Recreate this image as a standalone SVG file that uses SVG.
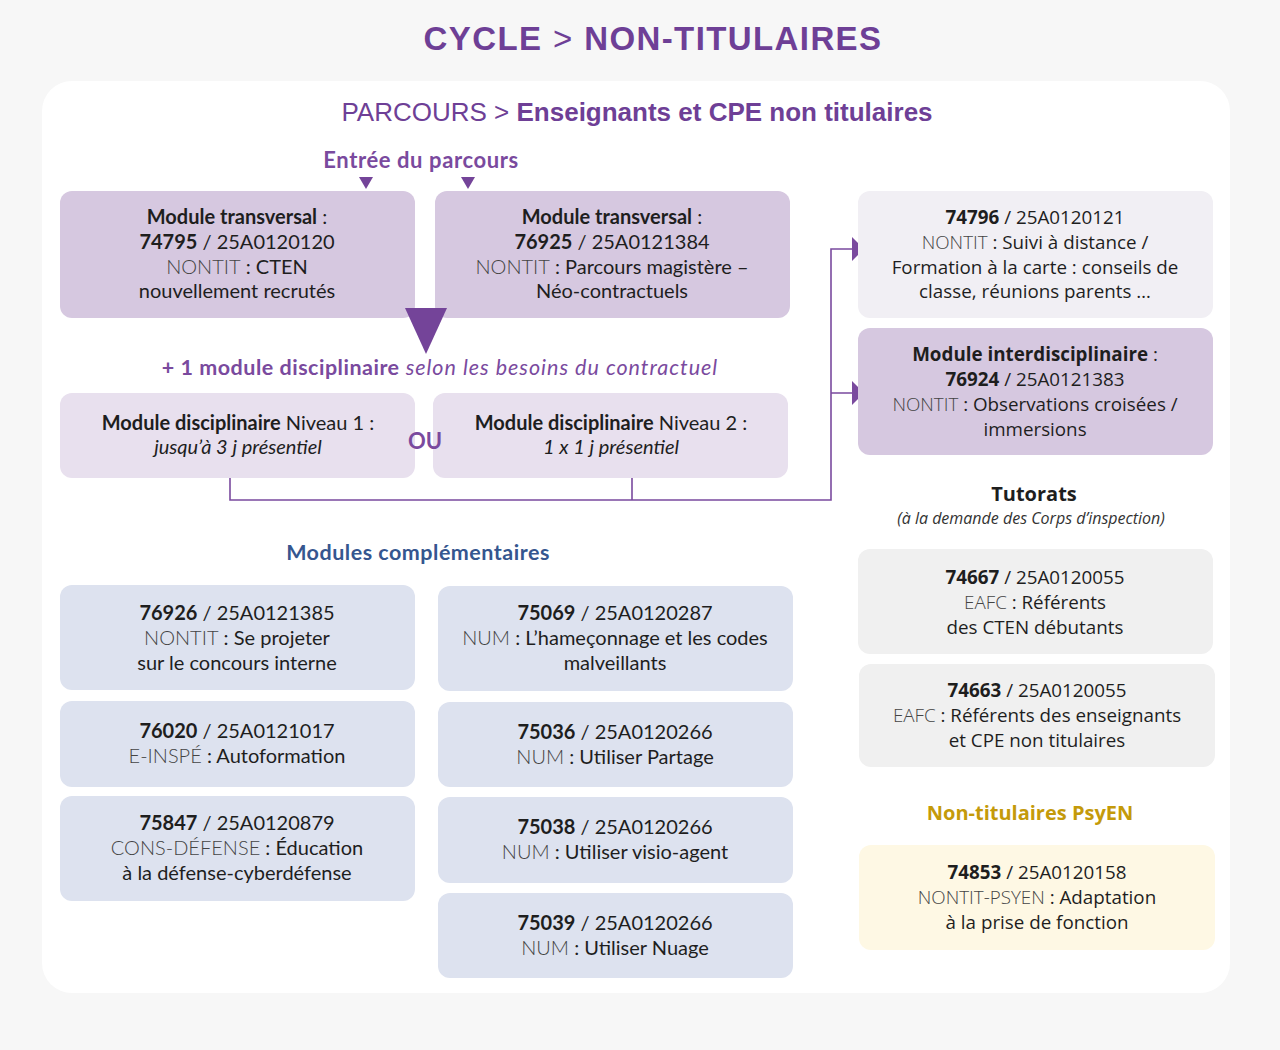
<svg xmlns="http://www.w3.org/2000/svg" width="1280" height="1050" viewBox="0 0 1280 1050">
<defs>
<style>
.t{font-family:"Lato","Liberation Sans",sans-serif;font-size:20px;fill:#1e1e1e;text-anchor:middle}
.w{font-family:"Open Sans","Liberation Sans",sans-serif;font-size:18.8px;fill:#1e1e1e;text-anchor:middle}
.b{font-weight:700}
.g{fill:#444;font-weight:300}
.i{font-style:italic}
.pv{fill:#d6c8e0}
.pl{fill:#e8e0ee}
.gr{fill:#f1eff4}
.gy{fill:#f0f0f0}
.bl{fill:#dde2ef}
.ye{fill:#fef8e4}
.conn{fill:none;stroke:#7a4a9e;stroke-width:1.6}
.ah{fill:#7a4a9e}
</style>
</defs>
<rect width="1280" height="1050" fill="#f7f7f7"/>
<rect x="42" y="81" width="1188" height="912" rx="30" fill="#ffffff"/>

<text x="653" y="50" text-anchor="middle" font-family="Liberation Sans, sans-serif" font-size="33" font-weight="700" fill="#6e3f96" letter-spacing="1.4">CYCLE <tspan font-weight="400">&gt;</tspan> NON-TITULAIRES</text>
<text x="637" y="121" text-anchor="middle" font-family="Liberation Sans, sans-serif" font-size="26" fill="#6e3f96">PARCOURS &gt; <tspan font-weight="700">Enseignants et CPE non titulaires</tspan></text>
<text x="421" y="168" text-anchor="middle" font-family="Lato, Liberation Sans, sans-serif" font-size="22" font-weight="700" fill="#7a4a9e" letter-spacing="0.6">Entrée du parcours</text>
<polygon points="359,177 373,177 366,189" fill="#744499"/>
<polygon points="461,177 475,177 468,189" fill="#744499"/>

<g id="b1"><rect x="60" y="191" width="355" height="127" rx="12" class="pv"/>
<text class="t"><tspan x="237" y="224" class="b">Module transversal</tspan><tspan> :</tspan><tspan x="237" y="249" class="b">74795</tspan><tspan> / 25A0120120</tspan><tspan x="237" y="274" class="g">NONTIT</tspan><tspan> : CTEN</tspan><tspan x="237" y="298">nouvellement recrutés</tspan></text></g>

<g id="b2"><rect x="435" y="191" width="355" height="127" rx="12" class="pv"/>
<text class="t"><tspan x="612" y="224" class="b">Module transversal</tspan><tspan> :</tspan><tspan x="612" y="249" class="b">76925</tspan><tspan> / 25A0121384</tspan><tspan x="612" y="274" class="g">NONTIT</tspan><tspan> : Parcours magistère –</tspan><tspan x="612" y="298">Néo-contractuels</tspan></text></g>

<polygon points="405,308 447,308 426,354" fill="#744499"/>
<text x="440" y="375" text-anchor="middle" font-family="Lato, Liberation Sans, sans-serif" font-size="21.5" fill="#7a4a9e" letter-spacing="0.5"><tspan font-weight="700">+ 1 module disciplinaire</tspan><tspan font-style="italic" letter-spacing="1"> selon les besoins du contractuel</tspan></text>

<g id="b3"><rect x="60" y="393" width="355" height="85" rx="12" class="pl"/>
<text class="t"><tspan x="238" y="430" class="b">Module disciplinaire</tspan><tspan> Niveau 1 :</tspan><tspan x="238" y="454" class="i">jusqu’à 3 j présentiel</tspan></text></g>

<g id="b4"><rect x="433" y="393" width="355" height="85" rx="12" class="pl"/>
<text class="t"><tspan x="611" y="430" class="b">Module disciplinaire</tspan><tspan> Niveau 2 :</tspan><tspan x="611" y="454" class="i">1 x 1 j présentiel</tspan></text></g>

<text x="425" y="449" text-anchor="middle" font-family="Lato, Liberation Sans, sans-serif" font-size="22" font-weight="700" fill="#7a4a9e">OU</text>

<g id="connectors">
<path class="conn" d="M230,478 V500 H831 V249 H852 M632,478 V500 M831,393 H852"/>
<polygon class="ah" points="852,237 864,249 852,261"/>
<polygon class="ah" points="852,381 864,393 852,405"/>
</g>

<g id="r1"><rect x="858" y="191" width="355" height="127" rx="12" class="gr"/>
<text class="w"><tspan x="1035" y="224" class="b">74796</tspan><tspan> / 25A0120121</tspan><tspan x="1035" y="249" class="g">NONTIT</tspan><tspan> : Suivi à distance /</tspan><tspan x="1035" y="274">Formation à la carte : conseils de</tspan><tspan x="1035" y="298">classe, réunions parents …</tspan></text></g>

<g id="r2"><rect x="858" y="328" width="355" height="127" rx="12" class="pv"/>
<text class="w"><tspan x="1035" y="361" class="b">Module interdisciplinaire</tspan><tspan> :</tspan><tspan x="1035" y="386" class="b">76924</tspan><tspan> / 25A0121383</tspan><tspan x="1035" y="411" class="g">NONTIT</tspan><tspan> : Observations croisées /</tspan><tspan x="1035" y="436">immersions</tspan></text></g>

<text x="1034" y="501" text-anchor="middle" font-family="Open Sans, Liberation Sans, sans-serif" font-size="20" font-weight="700" fill="#1e1e1e">Tutorats</text>
<text x="1031" y="524" text-anchor="middle" font-family="Open Sans, Liberation Sans, sans-serif" font-size="16" font-style="italic" fill="#333">(à la demande des Corps d’inspection)</text>

<g id="r3"><rect x="858" y="549" width="355" height="105" rx="12" class="gy"/>
<text class="w"><tspan x="1035" y="584" class="b">74667</tspan><tspan> / 25A0120055</tspan><tspan x="1035" y="609" class="g">EAFC</tspan><tspan> : Référents</tspan><tspan x="1035" y="634">des CTEN débutants</tspan></text></g>

<g id="r4"><rect x="859" y="664" width="356" height="103" rx="12" class="gy"/>
<text class="w"><tspan x="1037" y="697" class="b">74663</tspan><tspan> / 25A0120055</tspan><tspan x="1037" y="722" class="g">EAFC</tspan><tspan> : Référents des enseignants</tspan><tspan x="1037" y="747">et CPE non titulaires</tspan></text></g>

<text x="1030" y="820" text-anchor="middle" font-family="Open Sans, Liberation Sans, sans-serif" font-size="20" font-weight="700" fill="#c49a0a">Non-titulaires PsyEN</text>

<g id="r5"><rect x="859" y="845" width="356" height="105" rx="12" class="ye"/>
<text class="w"><tspan x="1037" y="879" class="b">74853</tspan><tspan> / 25A0120158</tspan><tspan x="1037" y="904" class="g">NONTIT-PSYEN</tspan><tspan> : Adaptation</tspan><tspan x="1037" y="929">à la prise de fonction</tspan></text></g>

<text x="418" y="560" text-anchor="middle" font-family="Lato, Liberation Sans, sans-serif" font-size="21.5" font-weight="700" fill="#35568f" letter-spacing="0.5">Modules complémentaires</text>

<g id="l1"><rect x="60" y="585" width="355" height="105" rx="12" class="bl"/>
<text class="t"><tspan x="237" y="620" class="b">76926</tspan><tspan> / 25A0121385</tspan><tspan x="237" y="645" class="g">NONTIT</tspan><tspan> : Se projeter</tspan><tspan x="237" y="670">sur le concours interne</tspan></text></g>

<g id="l2"><rect x="60" y="701" width="355" height="86" rx="12" class="bl"/>
<text class="t"><tspan x="237" y="738" class="b">76020</tspan><tspan> / 25A0121017</tspan><tspan x="237" y="763" class="g">E-INSPÉ</tspan><tspan> : Autoformation</tspan></text></g>

<g id="l3"><rect x="60" y="796" width="355" height="105" rx="12" class="bl"/>
<text class="t"><tspan x="237" y="830" class="b">75847</tspan><tspan> / 25A0120879</tspan><tspan x="237" y="855" class="g">CONS-DÉFENSE</tspan><tspan> : Éducation</tspan><tspan x="237" y="880">à la défense-cyberdéfense</tspan></text></g>

<g id="m1"><rect x="438" y="586" width="355" height="105" rx="12" class="bl"/>
<text class="t"><tspan x="615" y="620" class="b">75069</tspan><tspan> / 25A0120287</tspan><tspan x="615" y="645" class="g">NUM</tspan><tspan> : L’hameçonnage et les codes</tspan><tspan x="615" y="670">malveillants</tspan></text></g>

<g id="m2"><rect x="438" y="702" width="355" height="85" rx="12" class="bl"/>
<text class="t"><tspan x="615" y="739" class="b">75036</tspan><tspan> / 25A0120266</tspan><tspan x="615" y="764" class="g">NUM</tspan><tspan> : Utiliser Partage</tspan></text></g>

<g id="m3"><rect x="438" y="797" width="355" height="86" rx="12" class="bl"/>
<text class="t"><tspan x="615" y="834" class="b">75038</tspan><tspan> / 25A0120266</tspan><tspan x="615" y="859" class="g">NUM</tspan><tspan> : Utiliser visio-agent</tspan></text></g>

<g id="m4"><rect x="438" y="893" width="355" height="85" rx="12" class="bl"/>
<text class="t"><tspan x="615" y="930" class="b">75039</tspan><tspan> / 25A0120266</tspan><tspan x="615" y="955" class="g">NUM</tspan><tspan> : Utiliser Nuage</tspan></text></g>
</svg>
